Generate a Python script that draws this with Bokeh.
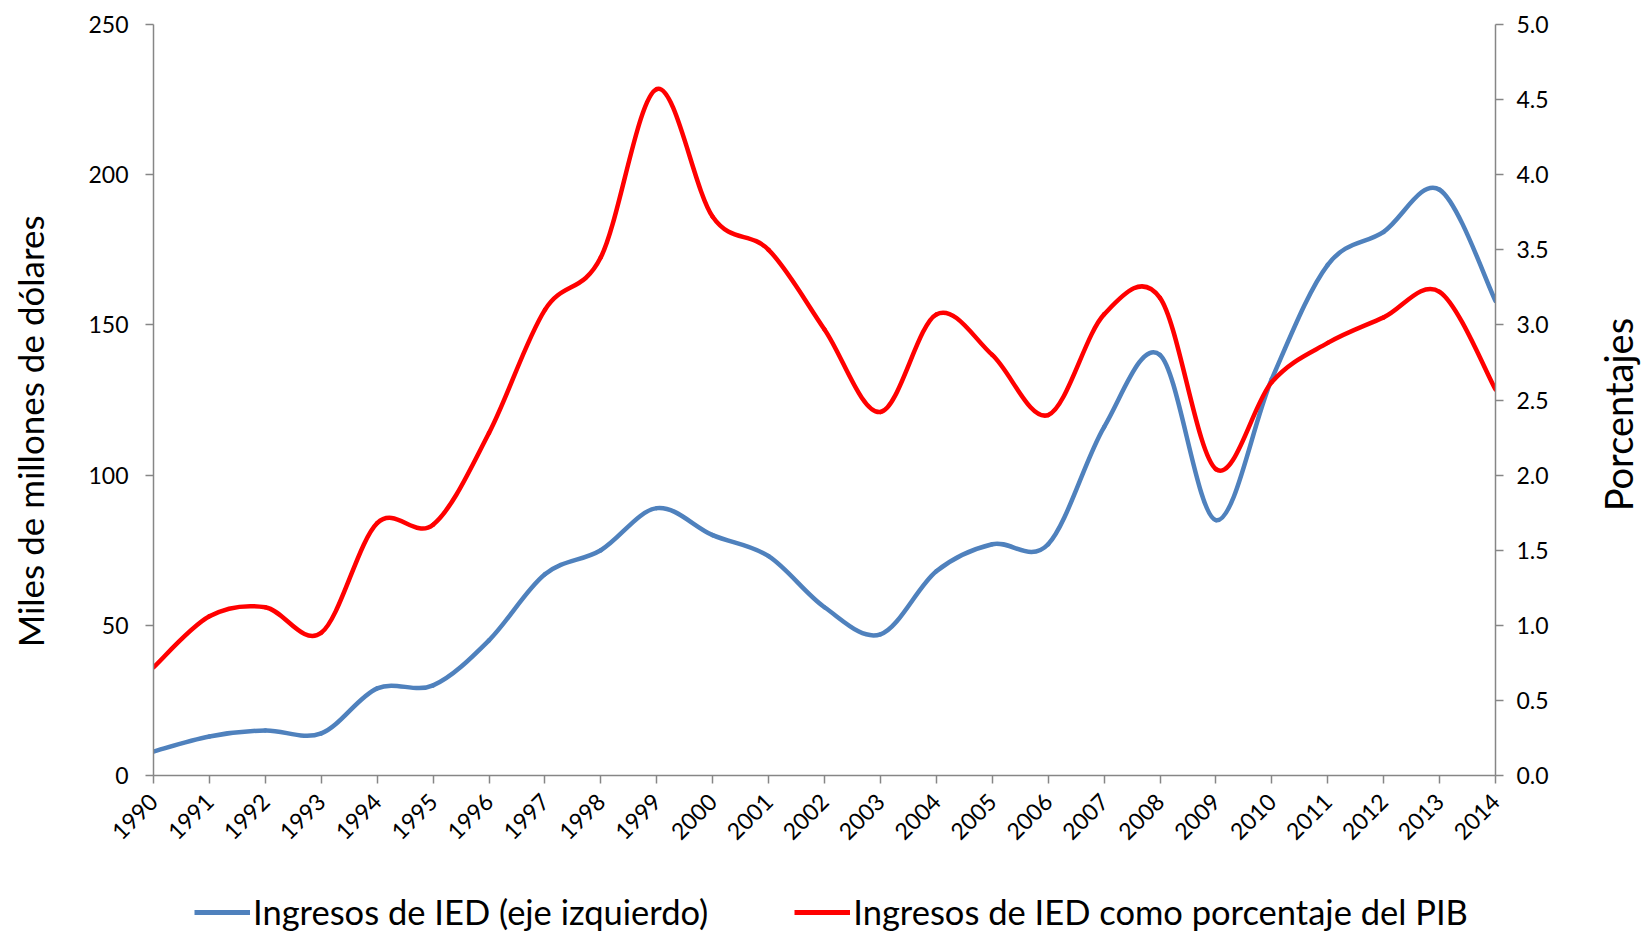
from bokeh.plotting import figure
from bokeh.models import (Range1d, LinearAxis, FixedTicker, PrintfTickFormatter,
                          Legend, LegendItem, ColumnDataSource)
from bokeh.layouts import column, row
from bokeh.embed import file_html
from bokeh.resources import INLINE
import math

years = list(range(1990, 2015))
ied = [8, 13, 15, 14, 29, 30, 45, 67, 75, 89, 80, 73, 56, 47, 68, 77, 77, 116, 140, 85,
       132, 170, 181, 195, 158]
pct = [0.72, 1.06, 1.12, 0.95, 1.68, 1.67, 2.28, 3.10, 3.45, 4.57, 3.72, 3.50, 2.97, 2.42,
       3.07, 2.80, 2.40, 3.07, 3.18, 2.04, 2.62, 2.88, 3.05, 3.22, 2.57]
left_ticks = [0, 50, 100, 150, 200, 250]
right_ticks = [0.0, 0.5, 1.0, 1.5, 2.0, 2.5, 3.0, 3.5, 4.0, 4.5, 5.0]
label_left = "Miles de millones de dólares"
label_right = "Porcentajes"
legend_labels = ["Ingresos de IED (eje izquierdo)", "Ingresos de IED como porcentaje del PIB"]

BLUE = "#4F81BD"
RED = "#FF0000"
AXIS = "#868686"
FONT = "Lato"
NBSP = "\u00a0"

W_SIDE = 80
W = 1645 - W_SIDE
H_MAIN, H_LEG = 880, 52
p = figure(width=W, height=H_MAIN, output_backend="svg", toolbar_location=None,
           x_range=Range1d(1990, 2014), y_range=Range1d(0, 250),
           min_border_left=153, min_border_right=W - 1495, min_border_top=24,
           min_border_bottom=105)
p.outline_line_color = None
p.xgrid.visible = False
p.ygrid.visible = False
p.extra_y_ranges = {"pct": Range1d(0, 5)}


def smooth(xs, ys):
    n = len(xs)
    x0, y0, x1, y1, cx0, cy0, cx1, cy1 = [], [], [], [], [], [], [], []
    for i in range(n - 1):
        im = max(i - 1, 0)
        ip = min(i + 2, n - 1)
        x0.append(xs[i]); y0.append(ys[i])
        x1.append(xs[i + 1]); y1.append(ys[i + 1])
        cx0.append(xs[i] + (xs[i + 1] - xs[im]) / 6.0)
        cy0.append(ys[i] + (ys[i + 1] - ys[im]) / 6.0)
        cx1.append(xs[i + 1] - (xs[ip] - xs[i]) / 6.0)
        cy1.append(ys[i + 1] - (ys[ip] - ys[i]) / 6.0)
    return ColumnDataSource(dict(x0=x0, y0=y0, x1=x1, y1=y1, cx0=cx0, cy0=cy0, cx1=cx1, cy1=cy1))


p.bezier(x0="x0", y0="y0", x1="x1", y1="y1", cx0="cx0", cy0="cy0", cx1="cx1", cy1="cy1",
         source=smooth(years, ied), line_color=BLUE, line_width=4.5, line_cap="round")
p.bezier(x0="x0", y0="y0", x1="x1", y1="y1", cx0="cx0", cy0="cy0", cx1="cx1", cy1="cy1",
         source=smooth(years, pct), line_color=RED, line_width=4.5, line_cap="round",
         y_range_name="pct")


def style_axis(ax):
    ax.axis_line_color = AXIS
    ax.axis_line_width = 1.5
    ax.major_tick_line_color = AXIS
    ax.major_tick_line_width = 1.5
    ax.major_tick_out = 8
    ax.major_tick_in = 0
    ax.minor_tick_line_color = None
    ax.major_label_text_font = FONT
    ax.major_label_text_font_size = "23px"
    ax.major_label_text_color = "#000000"
    ax.axis_label_text_font = FONT
    ax.axis_label_text_font_size = "35px"
    ax.axis_label_text_font_style = "normal"
    ax.axis_label_text_color = "#000000"


xa = p.xaxis[0]
style_axis(xa)
xa.ticker = FixedTicker(ticks=years)
xa.major_label_orientation = math.pi / 4
xa.major_label_standoff = 14

ya = p.yaxis[0]
style_axis(ya)
ya.ticker = FixedTicker(ticks=left_ticks)
ya.axis_label = label_left + NBSP * 7
ya.major_label_standoff = 17
ya.axis_label_standoff = 34

ra = LinearAxis(y_range_name="pct", ticker=FixedTicker(ticks=right_ticks),
                formatter=PrintfTickFormatter(format="%.1f"))
style_axis(ra)
ra.major_label_standoff = 13
p.add_layout(ra, "right")

# narrow strip on the right that carries the right-hand axis title (reads bottom to top)
rf = figure(width=W_SIDE, height=H_MAIN, output_backend="svg", toolbar_location=None,
            x_range=Range1d(0, 1), y_range=Range1d(0, 5),
            min_border_left=75, min_border_right=0, min_border_top=24, min_border_bottom=105)
rf.outline_line_color = None
rf.grid.visible = False
rf.xaxis.visible = False
ry = rf.yaxis[0]
ry.ticker = FixedTicker(ticks=[])
ry.axis_line_color = None
ry.major_tick_line_color = None
ry.minor_tick_line_color = None
ry.axis_label = label_right + NBSP * 3
ry.axis_label_text_font = FONT
ry.axis_label_text_font_size = "38px"
ry.axis_label_text_font_style = "normal"
ry.axis_label_text_color = "#000000"
ry.axis_label_standoff = 0

# legend strip (its frame is aligned with the chart's frame by the column layout)
lf = figure(width=W, height=H_LEG, output_backend="svg", toolbar_location=None,
            x_range=Range1d(0, 1), y_range=Range1d(0, 1),
            min_border=0, min_border_left=0, min_border_right=0, min_border_top=0,
            min_border_bottom=0)
lf.outline_line_color = None
lf.axis.visible = False
lf.grid.visible = False
# legend proxies (series values fall outside this strip's range, so only the key shows)
r1 = lf.line(x=years, y=ied, line_color=BLUE, line_width=5)
r2 = lf.line(x=years, y=pct, line_color=RED, line_width=5)

legend = Legend(items=[LegendItem(label=legend_labels[0], renderers=[r1]),
                       LegendItem(label=legend_labels[1], renderers=[r2])],
                orientation="horizontal", location=(41, 0))
legend.border_line_alpha = 0
legend.background_fill_alpha = 0
legend.padding = 0
legend.margin = 0
legend.spacing = 86
legend.glyph_width = 56
legend.glyph_height = 34
legend.label_standoff = 3
legend.label_text_font = FONT
legend.label_text_font_size = "34.5px"
legend.label_text_color = "#000000"
lf.add_layout(legend, "center")

layout = row(column(p, lf, spacing=0), rf, spacing=0)
open("out.html", "w").write(file_html(layout, INLINE))
